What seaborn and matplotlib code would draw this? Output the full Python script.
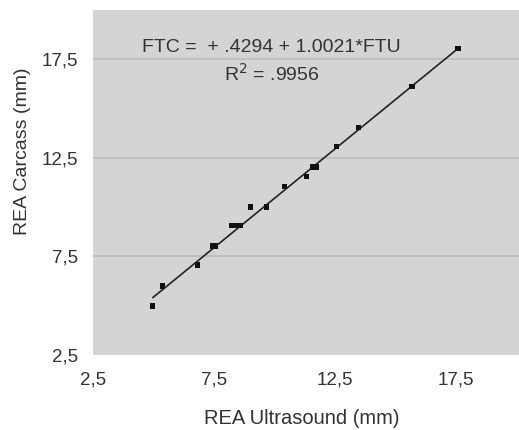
import matplotlib
matplotlib.use("Agg")
import matplotlib.pyplot as plt
import seaborn as sns
import numpy as np
import pandas as pd

# Data
rea_ultrasound = [4.97, 5.38, 6.83, 7.44, 7.57, 8.23, 8.43, 8.60, 9.01, 9.67,
                  10.41, 11.32, 11.56, 11.73, 12.55, 13.46, 15.68, 17.58]
rea_carcass = [4.99, 6.00, 7.07, 8.03, 8.03, 9.05, 9.05, 9.05, 10.01, 10.01,
               11.03, 11.54, 12.04, 12.04, 13.06, 14.02, 16.10, 18.03]
intercept = 0.4294
slope = 1.0021
r_squared_label = ".9956"
tick_values = [2.5, 7.5, 12.5, 17.5]
tick_labels = ["2,5", "7,5", "12,5", "17,5"]

sns.set_theme(style="white")
plt.rcParams["font.family"] = ["Liberation Sans", "DejaVu Sans"]

df = pd.DataFrame({"x": rea_ultrasound, "y": rea_carcass})
xs = np.array([min(rea_ultrasound), max(rea_ultrasound)])
fit = pd.DataFrame({"x": xs, "y": intercept + slope * xs})

fig = plt.figure(figsize=(5.19, 4.30), dpi=100)
ax = fig.add_axes([93/519, 75/430, 426/519, 345/430])
ax.set_facecolor("#d4d4d4")

for v in [7.5, 12.5, 17.5]:
    ax.axhline(v, color="#bcbcbc", lw=1.2, zorder=0.5)

sns.lineplot(data=fit, x="x", y="y", ax=ax, color="#222222", lw=1.2, zorder=2)
sns.scatterplot(data=df, x="x", y="y", ax=ax, color="#111111", s=14,
                marker="s", edgecolor="none", zorder=3)

ax.set_xlim(2.5, 20.1)
ax.set_ylim(2.5, 20.0)
ax.set_xticks(tick_values)
ax.set_xticklabels(tick_labels)
ax.set_yticks(tick_values)
ax.set_yticklabels(tick_labels)
ax.tick_params(axis="x", length=0, pad=12, labelsize=13.5, labelcolor="#333333")
ax.tick_params(axis="y", length=0, pad=11, labelsize=13.5, labelcolor="#333333")
for s in ax.spines.values():
    s.set_visible(False)

ax.set_xlabel("REA Ultrasound (mm)", fontsize=14.5, color="#333333")
ax.set_ylabel("REA Carcass (mm)", fontsize=14, color="#333333")
ax.xaxis.set_label_coords(0.491, -0.157)
ax.yaxis.set_label_coords(-0.146, 0.591)

ax.text(0.418, 0.892, f"FTC =  + .4294 + 1.0021*FTU", transform=ax.transAxes,
        ha="center", va="center", fontsize=14, color="#333333")
ax.text(0.42, 0.815, "R$^2$ = " + r_squared_label, transform=ax.transAxes,
        ha="center", va="center", fontsize=14, color="#333333")

fig.savefig("out.png", dpi=100, facecolor="white")
